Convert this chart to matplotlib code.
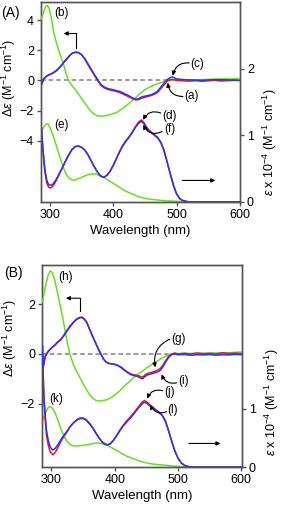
import matplotlib
matplotlib.use("Agg")
import matplotlib.pyplot as plt

plt.rcParams['font.family'] = ['Liberation Sans', 'DejaVu Sans']
plt.rcParams['mathtext.fontset'] = 'custom'
plt.rcParams['mathtext.rm'] = 'Liberation Sans'
plt.rcParams['mathtext.it'] = 'Liberation Sans:italic'

RED = '#ff1010'
BLUE = '#2233ff'
GREEN = '#66e01e'
FRAME = '#555555'

# ---------------- Panel A data ----------------
wlA_cd = [286.7, 290, 295, 300, 305, 310, 315, 320, 325, 330, 335, 340, 345, 350, 355, 360,
          365, 370, 375, 380, 385, 390, 395, 400, 405, 410, 415, 420, 425, 430, 435, 440,
          445, 450, 455, 460, 465, 470, 475, 480, 485, 490, 493, 500, 510, 520, 530, 540,
          550, 560, 570, 580, 590, 600]
cdA_blue = [-0.25, 0.1, 0.3, 0.4, 0.5, 0.65, 0.85, 1.1, 1.35, 1.6, 1.8, 1.88, 1.85, 1.72,
            1.45, 1.1, 0.75, 0.4, 0.08, -0.25, -0.42, -0.52, -0.58, -0.62, -0.68, -0.73,
            -0.82, -0.93, -1.03, -1.15, -1.25, -1.22, -1.1, -1.05, -1.0, -0.95, -0.85,
            -0.72, -0.45, -0.2, 0.05, 0.18, 0.23, 0.1, 0.05, 0.03, 0.02, 0.0, 0.03, 0.05,
            0.04, 0.03, 0.02, 0.0]
cdA_red = [-0.3, 0.05, 0.28, 0.38, 0.48, 0.62, 0.82, 1.08, 1.33, 1.58, 1.78, 1.86, 1.83,
           1.7, 1.42, 1.05, 0.7, 0.35, 0.02, -0.3, -0.48, -0.58, -0.64, -0.68, -0.74,
           -0.8, -0.9, -1.0, -1.1, -1.2, -1.3, -1.28, -1.18, -1.12, -1.06, -1.0, -0.92,
           -0.8, -0.55, -0.3, -0.05, 0.05, 0.06, 0.0, -0.03, -0.05, -0.02, -0.06, -0.03,
           0.0, -0.04, -0.02, 0.0, 0.0]
wlA_cdg = [286.7, 290, 293, 296, 299, 302, 306, 309, 312, 315, 319, 323, 327, 330, 335,
           340, 345, 350, 355, 360, 365, 370, 375, 380, 385, 390, 395, 400, 405, 410,
           415, 420, 425, 430, 435, 440, 445, 450, 455, 460, 465, 470, 475, 480, 485,
           490, 500, 520, 540, 560, 580, 590, 600]
cdA_green = [4.1, 4.5, 4.88, 4.98, 4.75, 4.2, 3.2, 2.7, 2.27, 1.85, 1.38, 0.85, 0.25,
             -0.05, -0.35, -0.6, -0.9, -1.2, -1.5, -1.8, -2.05, -2.25, -2.35, -2.38,
             -2.36, -2.33, -2.27, -2.2, -2.15, -2.0, -1.85, -1.7, -1.52, -1.33, -1.15,
             -0.95, -0.78, -0.62, -0.5, -0.4, -0.3, -0.22, -0.15, -0.09, -0.04, 0.0,
             0.03, 0.04, 0.05, 0.08, 0.1, 0.1, 0.12]

wlA_abs = [286.7, 289, 292, 295, 298, 301, 305, 310, 315, 320, 325, 330, 335, 340, 345,
           350, 355, 360, 365, 370, 375, 380, 385, 390, 395, 400, 405, 410, 415, 420,
           425, 430, 435, 440, 444, 448, 452, 456, 460, 465, 470, 475, 480, 485, 490,
           495, 500, 505, 510, 520, 600]
absA_blue = [1.1, 0.8, 0.5, 0.33, 0.26, 0.25, 0.27, 0.34, 0.43, 0.52, 0.62, 0.71, 0.79,
             0.83, 0.84, 0.82, 0.78, 0.71, 0.62, 0.53, 0.45, 0.39, 0.37, 0.4, 0.46, 0.55,
             0.65, 0.75, 0.84, 0.91, 0.97, 1.04, 1.12, 1.18, 1.21, 1.18, 1.12, 1.07,
             1.04, 1.0, 0.96, 0.89, 0.77, 0.6, 0.42, 0.25, 0.12, 0.05, 0.02, 0.0, 0.0]
absA_red = [1.12, 0.78, 0.46, 0.29, 0.22, 0.21, 0.24, 0.32, 0.42, 0.52, 0.62, 0.71, 0.79,
            0.83, 0.84, 0.82, 0.78, 0.71, 0.62, 0.53, 0.45, 0.39, 0.37, 0.4, 0.46, 0.55,
            0.65, 0.76, 0.85, 0.92, 0.98, 1.05, 1.13, 1.2, 1.23, 1.2, 1.13, 1.08,
            1.05, 1.01, 0.97, 0.9, 0.78, 0.6, 0.42, 0.25, 0.12, 0.05, 0.02, 0.0, 0.0]
wlA_absg = [286.7, 290, 294, 297, 300, 305, 310, 315, 320, 325, 330, 335, 340, 345, 350,
            355, 360, 365, 370, 375, 380, 385, 390, 395, 400, 410, 420, 430, 440, 450,
            460, 470, 480, 490, 500, 520, 600]
absA_green = [1.05, 1.12, 1.17, 1.17, 1.12, 1.0, 0.85, 0.7, 0.55, 0.43, 0.36, 0.33, 0.33,
              0.35, 0.37, 0.39, 0.41, 0.42, 0.42, 0.41, 0.39, 0.37, 0.34, 0.31, 0.28,
              0.22, 0.16, 0.12, 0.08, 0.055, 0.04, 0.03, 0.02, 0.015, 0.01, 0.0, 0.0]

# ---------------- Panel B data ----------------
wlB_cd = [286, 286.5, 290, 292, 295, 300, 305, 310, 315, 320, 325, 330, 335, 340, 345,
          348, 352, 356, 360, 365, 370, 375, 378, 382, 386, 390, 395, 400, 405, 410,
          415, 420, 425, 430, 435, 440, 444, 447, 452, 458, 463, 468, 472, 476, 480,
          485, 490, 495, 500, 510, 520, 530, 540, 550, 560, 570, 580, 590, 600]
cdB_blue = [0.3, -0.55, -0.1, 0.0, 0.12, 0.25, 0.35, 0.48, 0.58, 0.75, 0.95, 1.12, 1.28,
            1.4, 1.46, 1.47, 1.4, 1.25, 1.0, 0.7, 0.42, 0.15, 0.0, -0.2, -0.32, -0.38,
            -0.4, -0.42, -0.47, -0.55, -0.65, -0.75, -0.83, -0.87, -0.9, -0.96, -1.0,
            -0.92, -0.84, -0.8, -0.76, -0.72, -0.66, -0.52, -0.34, -0.14, -0.02, 0.0,
            -0.03, -0.02, -0.05, -0.03, -0.04, -0.02, -0.05, -0.03, -0.04, -0.02, -0.03]
cdB_red = [-0.6, -0.6, -0.12, -0.02, 0.1, 0.24, 0.35, 0.49, 0.6, 0.78, 0.98, 1.15, 1.3,
           1.42, 1.48, 1.49, 1.42, 1.27, 1.02, 0.72, 0.43, 0.15, 0.0, -0.2, -0.32, -0.37,
           -0.4, -0.42, -0.46, -0.53, -0.63, -0.73, -0.8, -0.84, -0.86, -0.9, -0.94,
           -0.86, -0.78, -0.74, -0.7, -0.65, -0.58, -0.45, -0.28, -0.1, 0.0, 0.04,
           0.0, 0.03, 0.0, 0.04, 0.01, 0.03, 0.0, 0.05, 0.02, 0.03, 0.02]
wlB_cdg = [286, 290, 295, 298, 301, 305, 310, 315, 320, 325, 329, 335, 340, 345, 350, 355,
           360, 365, 370, 375, 380, 385, 390, 395, 400, 405, 410, 415, 420, 425, 430,
           435, 440, 445, 450, 455, 460, 465, 470, 475, 480, 485, 490, 500, 520, 540,
           560, 580, 600]
cdB_green = [2.1, 2.7, 3.2, 3.35, 3.3, 3.0, 2.4, 1.8, 1.15, 0.45, 0.0, -0.45, -0.72,
             -0.95, -1.2, -1.43, -1.63, -1.78, -1.87, -1.9, -1.88, -1.86, -1.82, -1.75,
             -1.65, -1.55, -1.43, -1.3, -1.18, -1.07, -0.95, -0.85, -0.76, -0.67, -0.57,
             -0.48, -0.4, -0.32, -0.24, -0.16, -0.09, -0.04, 0.0, 0.02, 0.02, 0.03, 0.04,
             0.05, 0.08]

wlB_abs = [286, 288, 290, 292, 295, 298, 302, 306, 310, 315, 320, 325, 330, 335, 340, 345,
           350, 355, 360, 365, 370, 375, 380, 385, 389, 393, 398, 403, 408, 413, 418,
           423, 428, 433, 438, 443, 447, 451, 455, 460, 465, 470, 475, 480, 485, 490,
           495, 500, 505, 510, 515, 520, 600]
absB_blue = [1.9, 1.2, 0.9, 0.63, 0.45, 0.34, 0.29, 0.32, 0.38, 0.47, 0.55, 0.62, 0.7,
             0.76, 0.8, 0.83, 0.83, 0.8, 0.74, 0.67, 0.58, 0.5, 0.43, 0.39, 0.38, 0.4,
             0.46, 0.54, 0.62, 0.7, 0.76, 0.82, 0.88, 0.95, 1.02, 1.08, 1.11, 1.09,
             1.05, 1.01, 0.97, 0.93, 0.88, 0.78, 0.62, 0.44, 0.27, 0.15, 0.07, 0.03,
             0.01, 0.0, 0.0]
absB_red = [1.9, 1.15, 0.82, 0.55, 0.37, 0.26, 0.21, 0.25, 0.33, 0.44, 0.53, 0.61, 0.7,
            0.76, 0.81, 0.84, 0.84, 0.81, 0.75, 0.68, 0.59, 0.5, 0.43, 0.39, 0.38, 0.4,
            0.46, 0.54, 0.63, 0.71, 0.78, 0.84, 0.9, 0.97, 1.04, 1.11, 1.14, 1.11,
            1.07, 1.02, 0.98, 0.94, 0.89, 0.79, 0.62, 0.44, 0.27, 0.15, 0.07, 0.03,
            0.01, 0.0, 0.0]
wlB_absg = [286, 290, 295, 298, 302, 306, 310, 315, 320, 325, 330, 335, 340, 350, 360, 370,
            375, 380, 390, 400, 410, 420, 430, 440, 450, 460, 470, 480, 490, 500, 520, 600]
absB_green = [0.8, 0.92, 1.02, 1.04, 1.0, 0.92, 0.8, 0.65, 0.52, 0.43, 0.38, 0.36, 0.36,
              0.37, 0.39, 0.41, 0.41, 0.4, 0.36, 0.3, 0.24, 0.18, 0.14, 0.1, 0.07, 0.05,
              0.04, 0.03, 0.02, 0.01, 0.0, 0.0]

xticks = [300, 400, 500, 600]
W, H = 282, 509
fig = plt.figure(figsize=(W / 100, H / 100), dpi=100)

LW = 1.1
TFS = 9


def style(ax):
    for s in ax.spines.values():
        s.set_color(FRAME)
        s.set_linewidth(1.0)
    ax.tick_params(direction='out', length=3, width=1, color=FRAME, labelsize=TFS, pad=2)


def panel(rect, xlim, ylimL, ylimR, yticksL, yticksR,
          cd_sets, abs_sets, letter, letter_xy):
    ax = fig.add_axes(rect)
    ax2 = ax.twinx()
    ax.set_zorder(ax2.get_zorder() + 1)
    ax.patch.set_visible(False)
    ax.axhline(0, color='#808080', lw=1.1, ls=(0, (3, 2)), zorder=1)
    for wl, ys, c in abs_sets:
        ax2.plot(wl, ys, color=c, lw=LW)
    for wl, ys, c in cd_sets:
        ax.plot(wl, ys, color=c, lw=LW, zorder=3)
    ax.set_xlim(*xlim)
    ax.set_ylim(*ylimL)
    ax2.set_ylim(*ylimR)
    ax.set_xticks(xticks)
    ax.set_yticks(yticksL)
    ax2.set_yticks(yticksR)
    style(ax)
    style(ax2)
    ax.set_xlabel('Wavelength (nm)', fontsize=TFS + 0.5, labelpad=3)
    fig.text(letter_xy[0] / W, 1 - letter_xy[1] / H, letter, fontsize=10,
             ha='center', va='center')
    return ax, ax2


axA, axA2 = panel([41 / W, 1 - 202 / H, 199 / W, 200 / H], (286, 600), (-8.07, 5.2),
                  (0, 3.0), [-4, -2, 0, 2, 4], [0, 1, 2],
                  [(wlA_cdg, cdA_green, GREEN), (wlA_cd, cdA_red, RED), (wlA_cd, cdA_blue, BLUE)],
                  [(wlA_absg, absA_green, GREEN), (wlA_abs, absA_red, RED), (wlA_abs, absA_blue, BLUE)],
                  '(A)', (10, 13))
axB, axB2 = panel([42 / W, 1 - 467 / H, 200 / W, 202 / H], (285, 601), (-4.56, 3.59),
                  (0, 3.46), [-2, 0, 2], [0, 1],
                  [(wlB_cdg, cdB_green, GREEN), (wlB_cd, cdB_red, RED), (wlB_cd, cdB_blue, BLUE)],
                  [(wlB_absg, absB_green, GREEN), (wlB_abs, absB_red, RED), (wlB_abs, absB_blue, BLUE)],
                  '(B)', (13, 273))

ylab = r'$\Delta\mathit{\varepsilon}$ (M$^{-1}$ cm$^{-1}$)'
rlab = r'$\mathit{\varepsilon}$ x 10$^{-4}$ (M$^{-1}$ cm$^{-1}$)'
for ax, ax2, yl, yr, xl, xr in [(axA, axA2, 0.62, 0.30, -0.115, 1.105),
                                (axB, axB2, 0.64, 0.32, -0.115, 1.105)]:
    ax.set_ylabel(ylab, fontsize=TFS)
    ax.yaxis.set_label_coords(xl, yl)
    ax2.set_ylabel(rlab, fontsize=TFS)
    ax2.yaxis.set_label_coords(xr, yr)

AFS = 8.5
arc = dict(arrowstyle='-|>', color='black', lw=0.8, mutation_scale=6, shrinkA=1, shrinkB=0)

# Panel A labels
axA.text(319, 4.45, '(b)', fontsize=AFS, ha='center', va='center')
axA.text(318, -2.95, '(e)', fontsize=AFS, ha='center', va='center')
axA.text(533, 1.11, '(c)', fontsize=AFS, ha='center', va='center')
axA.annotate('', xy=(494, 0.31), xytext=(522, 1.15),
             arrowprops=dict(**arc, connectionstyle='arc3,rad=0.45'))
axA.text(523, -1.03, '(a)', fontsize=AFS, ha='center', va='center')
axA.annotate('', xy=(486, -0.15), xytext=(512, -1.07),
             arrowprops=dict(**arc, connectionstyle='arc3,rad=-0.45'))
axA.text(488, -2.35, '(d)', fontsize=AFS, ha='center', va='center')
axA.annotate('', xy=(447, -2.62), xytext=(477, -2.2),
             arrowprops=dict(**arc, connectionstyle='arc3,rad=0.45'))
axA.text(489, -3.24, '(f)', fontsize=AFS, ha='center', va='center')
axA.annotate('', xy=(447, -2.95), xytext=(479, -3.35),
             arrowprops=dict(**arc, connectionstyle='arc3,rad=-0.5'))
axA.plot([341.6, 341.6], [2.16, 3.11], color='black', lw=0.8)
axA.annotate('', xy=(321.7, 3.11), xytext=(341.6, 3.11),
             arrowprops=dict(arrowstyle='-|>', color='black', lw=0.8, mutation_scale=6,
                             shrinkA=0, shrinkB=0))
axA.annotate('', xy=(561, -6.64), xytext=(509, -6.64),
             arrowprops=dict(arrowstyle='-|>', color='black', lw=0.8, mutation_scale=6,
                             shrinkA=0, shrinkB=0))

# Panel B labels
axB.text(322, 3.1, '(h)', fontsize=AFS, ha='center', va='center')
axB.text(308, -1.82, '(k)', fontsize=AFS, ha='center', va='center')
axB.text(500, 0.6, '(g)', fontsize=AFS, ha='center', va='center')
axB.annotate('', xy=(464, -0.54), xytext=(489, 0.62),
             arrowprops=dict(**arc, connectionstyle='arc3,rad=0.4'))
axB.text(508, -1.1, '(i)', fontsize=AFS, ha='center', va='center')
axB.annotate('', xy=(474, -0.82), xytext=(500, -1.15),
             arrowprops=dict(**arc, connectionstyle='arc3,rad=-0.45'))
axB.text(486, -1.55, '(j)', fontsize=AFS, ha='center', va='center')
axB.annotate('', xy=(451, -1.8), xytext=(478, -1.5),
             arrowprops=dict(**arc, connectionstyle='arc3,rad=0.45'))
axB.text(492, -2.26, '(l)', fontsize=AFS, ha='center', va='center')
axB.annotate('', xy=(456, -2.05), xytext=(484, -2.3),
             arrowprops=dict(**arc, connectionstyle='arc3,rad=-0.5'))
axB.plot([345, 345], [1.75, 2.25], color='black', lw=0.8)
axB.annotate('', xy=(322.7, 2.25), xytext=(345, 2.25),
             arrowprops=dict(arrowstyle='-|>', color='black', lw=0.8, mutation_scale=6,
                             shrinkA=0, shrinkB=0))
axB.annotate('', xy=(567, -3.61), xytext=(517, -3.61),
             arrowprops=dict(arrowstyle='-|>', color='black', lw=0.8, mutation_scale=6,
                             shrinkA=0, shrinkB=0))

fig.savefig('out.png', dpi=100)
